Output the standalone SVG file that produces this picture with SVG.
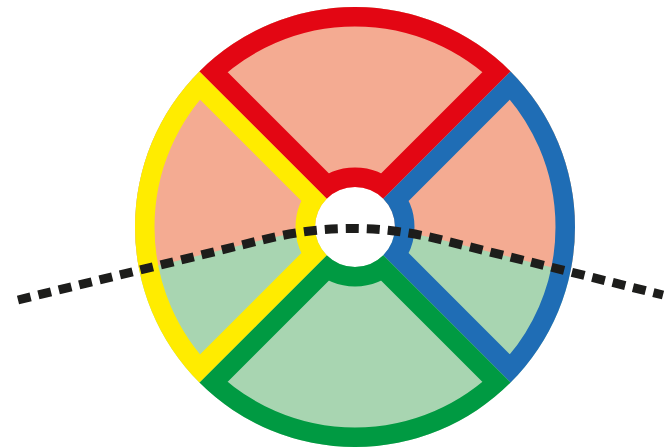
<svg xmlns="http://www.w3.org/2000/svg" width="666" height="448" viewBox="0 0 666 448">
  <defs>
    <style>
      .band { fill: none; stroke-width: 39; stroke-linejoin: miter; }
      .dash { fill: none; stroke: #1d1d1b; stroke-width: 9; stroke-dasharray: 13 8; }
    </style>
    <path id="pRed" d="M199.44,71.44 A220,220 0 0 1 510.56,71.44 L383.28,198.72 A40,40 0 0 0 326.72,198.72 Z"/>
    <path id="pBlue" d="M510.56,71.44 A220,220 0 0 1 510.56,382.56 L383.28,255.28 A40,40 0 0 0 383.28,198.72 Z"/>
    <path id="pGreen" d="M510.56,382.56 A220,220 0 0 1 199.44,382.56 L326.72,255.28 A40,40 0 0 0 383.28,255.28 Z"/>
    <path id="pYellow" d="M199.44,382.56 A220,220 0 0 1 199.44,71.44 L326.72,198.72 A40,40 0 0 0 326.72,255.28 Z"/>
    <clipPath id="cRed"><use href="#pRed"/></clipPath>
    <clipPath id="cBlue"><use href="#pBlue"/></clipPath>
    <clipPath id="cGreen"><use href="#pGreen"/></clipPath>
    <clipPath id="cYellow"><use href="#pYellow"/></clipPath>
    <clipPath id="cUpper">
      <path d="M0,0 L666,0 L666,295.7 L663,295 L442,240 Q352,217 262,240 L18,300 L0,304.4 Z"/>
    </clipPath>
  </defs>
  <rect width="666" height="448" fill="#ffffff"/>
  <g id="fills">
    <circle cx="355" cy="227" r="220" fill="#a8d5b1"/>
    <circle cx="355" cy="227" r="220" fill="#f4ab92" clip-path="url(#cUpper)"/>
    <circle cx="355" cy="227" r="40" fill="#ffffff"/>
  </g>
  <g id="sector-red"><use href="#pRed" class="band" stroke="#e30613" clip-path="url(#cRed)"/></g>
  <g id="sector-blue"><use href="#pBlue" class="band" stroke="#1f6db5" clip-path="url(#cBlue)"/></g>
  <g id="sector-green"><use href="#pGreen" class="band" stroke="#009a42" clip-path="url(#cGreen)"/></g>
  <g id="sector-yellow"><use href="#pYellow" class="band" stroke="#ffec00" clip-path="url(#cYellow)"/></g>
  <g id="connectors">
    <path class="dash" d="M18,300 L262,240 Q352,217 442,240 L663,295"/>
  </g>
</svg>
